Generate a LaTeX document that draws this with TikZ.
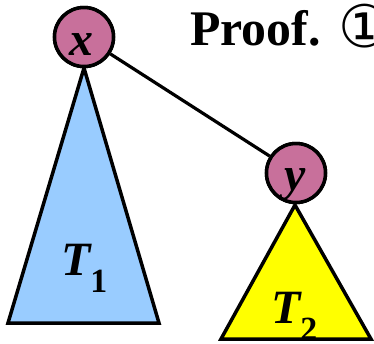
\documentclass[tikz,border=0pt]{standalone}
\usepackage{fontspec}
\setmainfont{Liberation Serif}
\newfontfamily\symfont{DejaVu Sans}
\definecolor{mauve}{RGB}{200,112,155}
\definecolor{lightblue}{RGB}{153,204,255}
\definecolor{yel}{RGB}{255,255,0}
\begin{document}
\begin{tikzpicture}[x=1bp,y=-1bp,
  vertex/.style={circle,draw=black,fill=mauve,line width=3.5bp,minimum size=59bp,inner sep=0pt},
  subtree/.style={draw=black,line width=3.5bp,line join=miter},
  lbl/.style={inner sep=0pt,font=\fontsize{48}{56}\selectfont\bfseries\itshape},
  edge/.style={draw=black,line width=3.2bp}]
\useasboundingbox (0,0) rectangle (374,344);
% subtrees
\coordinate (t1a) at (84,68);
\coordinate (t1l) at (8,323);
\coordinate (t1r) at (159,323);
\coordinate (t2a) at (295,205);
\coordinate (t2l) at (221,339);
\coordinate (t2r) at (371,339);
\path[subtree,fill=lightblue] (t1a) -- (t1l) -- (t1r) -- cycle;
\path[subtree,fill=yel] (t2a) -- (t2l) -- (t2r) -- cycle;
% vertices
\node[vertex] (nx) at (84,37) {};
\node[vertex] (ny) at (296,173) {};
\draw[edge] (nx) -- (ny);
\node[vertex] at (nx) {};
\node[vertex] at (ny) {};
\node[lbl,anchor=base] (lx) at (81,55) {x};
\node[lbl,anchor=base] (ly) at (295,190) {y};
% subtree labels
\node[lbl,anchor=base west] (l1) at (61,275) {T\raisebox{-17bp}{\upshape\fontsize{34}{40}\selectfont 1}};
\node[lbl,anchor=base west] (l2) at (271,323) {T\raisebox{-17bp}{\upshape\fontsize{34}{40}\selectfont 2}};
% proof text
\node[inner sep=0pt,anchor=base west,font=\fontsize{50}{58}\selectfont\bfseries] (pf) at (190,45) {Proof.};
\node[inner sep=0pt,anchor=base west,font=\fontsize{59}{66}\selectfont\symfont] (c1) at (338,47) {①};
\end{tikzpicture}
\end{document}
